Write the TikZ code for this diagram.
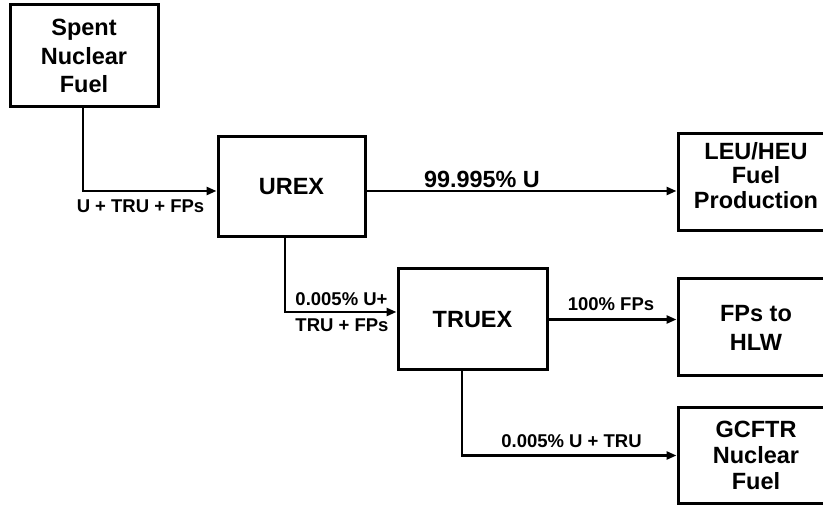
\documentclass[tikz,border=0pt]{standalone}
\usepackage{fontspec}
\setmainfont{Liberation Sans}
\usetikzlibrary{arrows.meta}
\begin{document}
\begin{tikzpicture}[x=1pt,y=-1pt,
  box/.style={draw, line width=3pt, inner sep=0pt, align=center},
  boxfont/.style={font=\fontsize{23.5}{#1}\selectfont\bfseries},
  boxtxt/.style={inner sep=0pt, align=center},
  conn/.style={line width=2.5pt, -{Triangle[length=10pt,width=8pt]}},
  lbl/.style={font=\fontsize{18.5}{22}\selectfont\bfseries, inner sep=0pt, anchor=base},
]
\useasboundingbox (0,0) rectangle (823,505);

% boxes
\node[box, boxfont=28.5, minimum width=148pt, minimum height=102pt] (spent) at (84,56) {Spent\\Nuclear\\Fuel};
\node[box, boxfont=28, minimum width=147pt, minimum height=100pt] (urex) at (291.5,187) {UREX};
\node[box, boxfont=28, minimum width=149pt, minimum height=101pt] (truex) at (472.5,319.5) {TRUEX};
\node[box, minimum width=156pt, minimum height=97pt] (leu) at (756,182.5) {};
\node[boxtxt, boxfont=24.5] (leutxt) at (756,175.5) {LEU/HEU\\Fuel\\Production};
\node[box, boxfont=29, minimum width=156pt, minimum height=97pt] (fps) at (756,327.5) {FPs to\\HLW};
\node[box, boxfont=26, minimum width=156pt, minimum height=95pt] (gcftr) at (756,455.5) {GCFTR\\Nuclear\\Fuel};

% connectors
\draw[conn] ([xshift=-1pt]spent.south) |- ([yshift=-4pt]urex.west);
\draw[conn] ([yshift=-4pt]urex.east) -- ([yshift=-4pt]urex.east -| leu.west);
\draw[conn] ([xshift=-6.5pt]urex.south) |- ([yshift=7.5pt]truex.west);
\draw[conn] (truex.east) -- (truex.east -| fps.west);
\draw[conn] ([xshift=-10.5pt]truex.south) |- (gcftr.west);

% labels
\node[lbl] (l1) at (140.5,213) {U + TRU + FPs};
\node[lbl, font=\fontsize{23.4}{28}\selectfont\bfseries] (l2) at (482,188) {99.995\% U};
\node[lbl] (l3) at (341.5,306) {0.005\% U+};
\node[lbl] (l4) at (342,332) {TRU + FPs};
\node[lbl] (l5) at (611,311) {100\% FPs};
\node[lbl] (l6) at (571.5,447) {0.005\% U + TRU};
\end{tikzpicture}
\end{document}
